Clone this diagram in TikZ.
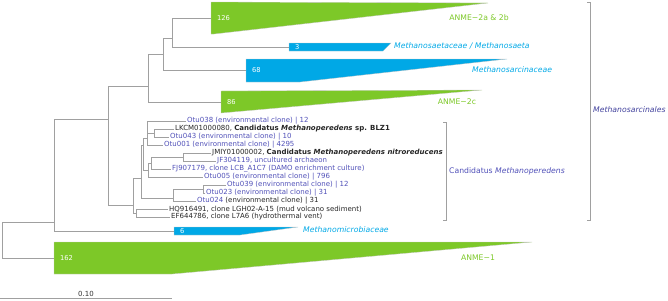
\documentclass[tikz,border=0pt]{standalone}
\usepackage{fontspec}
\setmainfont{DejaVu Sans}
\usetikzlibrary{positioning}

\definecolor{anmegreen}{HTML}{7DC828}
\definecolor{famcyan}{HTML}{00A8E6}
\definecolor{otublue}{HTML}{5050B8}
\definecolor{ordblue}{HTML}{40409C}
\definecolor{branchgray}{HTML}{A0A0A0}

\begin{document}
\begin{tikzpicture}[
    x=1pt, y=-1pt,
    every node/.style={font=\fontsize{7}{8}\selectfont, inner sep=1pt},
    branch/.style={draw=branchgray, line width=0.6pt},
    leaf/.style={anchor=west, text=black!85},
    otu/.style={leaf, text=otublue},
    clade/.style={draw=branchgray!60, line width=0.3pt},
    count/.style={anchor=west, text=white, font=\fontsize{6.7}{8}\selectfont},
    grp/.style={font=\fontsize{7.7}{9}\selectfont},
    bracket/.style={draw=branchgray, line width=0.6pt}
]
\useasboundingbox (0,0) rectangle (668,300);

% collapsed clades
\path[clade, fill=anmegreen] (211,2) -- (488,3) -- (214,34) -- (211,34) -- cycle;
\path[clade, fill=famcyan]   (289,43) -- (391,43) -- (383,51) -- (289,51) -- cycle;
\path[clade, fill=famcyan]   (246,59) -- (507,59) -- (300,82) -- (246,82) -- cycle;
\path[clade, fill=anmegreen] (221,91) -- (482,90) -- (221,113) -- cycle;
\path[clade, fill=famcyan]   (174,227) -- (298,227) -- (240,235) -- (174,235) -- cycle;
\path[clade, fill=anmegreen] (54,242) -- (532,242) -- (172,274) -- (54,274) -- cycle;

\coordinate (w126) at (211,18);
\coordinate (w3)   at (289,47);
\coordinate (w68)  at (246,70);
\coordinate (w86)  at (221,102);
\coordinate (w6)   at (174,231);
\coordinate (w162) at (54,258);

% sizes of the clades
\node[count] (n126) at (216,18)  {126};
\node[count] (n3)   at (294,47)  {3};
\node[count] (n68)  at (251,70)  {68};
\node[count] (n86)  at (226,102) {86};
\node[count] (n6)   at (179,231) {6};
\node[count] (n162) at (59,258)  {162};

% clade names
\node[grp, text=anmegreen] (anme2ab) at (479,18) {ANME−2a \& 2b};
\node[grp, text=famcyan, anchor=west] (saeta) at (393,46) {\itshape Methanosaetaceae / Methanosaeta};
\node[grp, text=famcyan, anchor=west] (sarcina) at (471,70) {\itshape Methanosarcinaceae};
\node[grp, text=anmegreen] (anme2c) at (457,102) {ANME−2c};
\node[grp, text=famcyan, anchor=west] (micro) at (302,230) {\itshape Methanomicrobiaceae};
\node[grp, text=anmegreen] (anme1) at (478,258) {ANME−1};

% leaves
\node[otu]  (otu038) at (186,121) {Otu038 (environmental clone) | 12};
\node[leaf] (lkcm)   at (174,129) {LKCM01000080, \textbf{Candidatus \textit{Methanoperedens} sp. BLZ1}};
\node[otu]  (otu043) at (169,137) {Otu043 (environmental clone) | 10};
\node[otu]  (otu001) at (163,145) {Otu001 (environmental clone) | 4295};
\node[leaf] (jmiy)   at (211,153) {JMIY01000002, \textbf{Candidatus \textit{Methanoperedens nitroreducens}}};
\node[otu]  (jf)     at (216,161) {JF304119, uncultured archaeon};
\node[otu]  (fj)     at (171,169) {FJ907179, clone LCB\_A1C7 (DAMO enrichment culture)};
\node[otu]  (otu005) at (203,177) {Otu005 (environmental clone) | 796};
\node[otu]  (otu039) at (226,185) {Otu039 (environmental clone) | 12};
\node[otu]  (otu023) at (205,193) {Otu023 (environmental clone) | 31};
\node[leaf] (otu024) at (196,201) {\textcolor{otublue}{Otu024} (environmental clone) | 31};
\node[leaf] (hq)     at (168,209) {HQ916491, clone LGH02-A-15 (mud volcano sediment)};
\node[leaf] (ef)     at (170,217) {EF644786, clone L7A6 (hydrothermal vent)};

% inner nodes of the tree
\coordinate (root) at (2,240);
\coordinate (nE)  at (54,222);
\coordinate (nD)  at (108,119);
\coordinate (nC)  at (148,86);
\coordinate (nB)  at (163,54);
\coordinate (nA)  at (172,38);
\coordinate (nP)  at (133,205);
\coordinate (nR)  at (136,213);
\coordinate (nQ)  at (141,178);
\coordinate (nS)  at (143,145);
\coordinate (nT)  at (147,138);
\coordinate (nN1) at (154,133);
\coordinate (nU)  at (148,170);
\coordinate (nX)  at (151,163);
\coordinate (nW)  at (183,157);
\coordinate (nNb) at (173,198);
\coordinate (nNa) at (203,189);

% branches
\foreach \p/\c in {root/nE, root/w162, nE/nD, nE/w6, nD/nC, nD/nP,
    nC/nB, nC/w86, nB/nA, nB/w68, nA/w126, nA/w3,
    nP/nQ, nP/nR, nR/hq, nR/ef, nQ/nS, nQ/nNb,
    nS/nT, nS/nU, nT/otu038, nT/nN1, nT/otu001, nN1/lkcm, nN1/otu043,
    nU/nX, nU/otu005, nX/nW, nX/fj, nW/jmiy, nW/jf,
    nNb/nNa, nNb/otu024, nNa/otu039, nNa/otu023}
    \draw[branch] (\p) |- (\c);

% brackets
\coordinate (ordtop) at (590,2);
\coordinate (ordbot) at (590,220);
\draw[bracket] ([xshift=-3pt]ordtop) -- (ordtop) -- (ordbot) -- ([xshift=-3pt]ordbot);
\node[grp, text=ordblue, anchor=west] (sarcinales) at (592,110) {\itshape Methanosarcinales};

\coordinate (gentop) at (446,122);
\coordinate (genbot) at (446,220);
\draw[bracket] ([xshift=-3pt]gentop) -- (gentop) -- (genbot) -- ([xshift=-3pt]genbot);
\node[grp, text=otublue, anchor=west] (perdens) at (448,171) {Candidatus \textit{Methanoperedens}};

% scale bar
\coordinate (sb0) at (0,298);
\coordinate (sb1) at (172,298);
\draw[branch] (sb0) -- node[above=0pt, text=black!80] {0.10} (sb1);

\end{tikzpicture}
\end{document}
